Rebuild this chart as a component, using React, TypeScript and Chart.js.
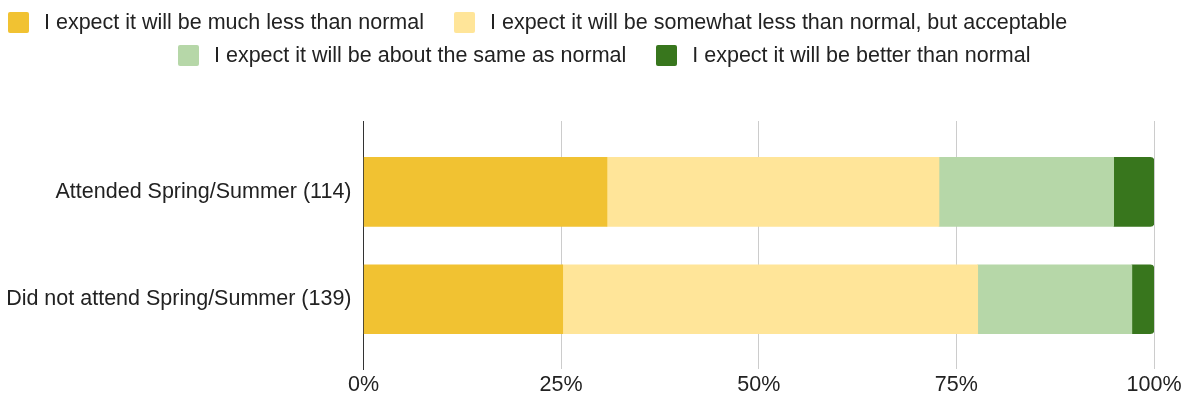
import React, { useEffect, useRef } from 'react';
import { Chart, registerables } from 'chart.js';

Chart.register(...registerables);

const categories = ['Attended Spring/Summer (114)', 'Did not attend Spring/Summer (139)'];
const seriesLabels = [
  'I expect it will be much less than normal',
  'I expect it will be somewhat less than normal, but acceptable',
  'I expect it will be about the same as normal',
  'I expect it will be better than normal',
];
const seriesColors = ['#f1c232', '#ffe599', '#b6d7a8', '#38761d'];
const muchLess = [30.8, 25.2];
const somewhatLess = [42.0, 52.5];
const aboutSame = [22.1, 19.5];
const better = [5.1, 2.8];
const xTickValues = [0, 25, 50, 75, 100];

const seriesValues = [muchLess, somewhatLess, aboutSame, better];

const FONT = "Arial, 'Liberation Sans', sans-serif";
const TEXT = '#222222';
const FS = 21.5;

function LegendItem({ idx, first }: { idx: number; first: boolean }) {
  return (
    <div style={{ display: 'flex', alignItems: 'center', marginLeft: first ? 0 : 30 }}>
      <div
        style={{
          width: 21,
          height: 21,
          borderRadius: 2,
          background: seriesColors[idx],
          marginRight: 15,
          flex: '0 0 auto',
        }}
      />
      <span style={{ fontFamily: FONT, fontSize: FS, color: TEXT, whiteSpace: 'nowrap', lineHeight: '21px' }}>
        {seriesLabels[idx]}
      </span>
    </div>
  );
}

export default function App() {
  const ref = useRef<HTMLCanvasElement | null>(null);

  useEffect(() => {
    if (!ref.current) return;
    const datasets = seriesValues.map((vals, i) => ({
      label: seriesLabels[i],
      data: vals.map((v, j) => ({ x: v, y: j })),
      backgroundColor: seriesColors[i],
      borderWidth: 0,
      borderRadius: i === seriesValues.length - 1 ? 4 : 0,
      borderSkipped: 'start' as const,
      barThickness: 69,
    }));
    const chart = new Chart(ref.current, {
      type: 'bar',
      data: { datasets },
      options: {
        indexAxis: 'y',
        animation: false,
        responsive: false,
        maintainAspectRatio: false,
        layout: { padding: { top: 121, right: 35, left: 0, bottom: 0 } },
        plugins: {
          legend: { display: false },
          tooltip: { enabled: false },
        },
        scales: {
          x: {
            type: 'linear',
            stacked: true,
            min: 0,
            max: 100,
            afterBuildTicks: (scale: any) => {
              scale.ticks = xTickValues.map((v) => ({ value: v }));
            },
            ticks: {
              callback: (v: any) => `${v}%`,
              color: TEXT,
              font: { family: FONT, size: FS },
              padding: 3,
              maxRotation: 0,
            },
            grid: {
              color: (ctx: any) => (ctx.tick && ctx.tick.value === 0 ? '#333333' : '#cccccc'),
              drawTicks: false,
              lineWidth: 1,
            },
            border: { display: false },
            afterFit: (scale: any) => {
              scale.height = 36;
            },
          },
          y: {
            type: 'linear',
            stacked: true,
            reverse: true,
            offset: false,
            min: -0.66,
            max: 1.65,
            afterBuildTicks: (scale: any) => {
              scale.ticks = categories.map((_, i) => ({ value: i }));
            },
            ticks: {
              callback: (v: any) => categories[v as number] ?? '',
              color: TEXT,
              font: { family: FONT, size: FS },
              padding: 4,
            },
            grid: { display: false, offset: false },
            border: { display: true, color: '#333333', width: 1 },
            afterFit: (scale: any) => {
              scale.width = 363.5;
            },
          },
        },
      },
    });
    return () => chart.destroy();
  }, []);

  return (
    <div style={{ position: 'absolute', left: 0, top: 0, width: 1189, height: 405, background: '#ffffff' }}>
      <canvas ref={ref} width={1189} height={405} style={{ position: 'absolute', left: 0, top: 0 }} />
      <div style={{ position: 'absolute', left: 8, top: 12, display: 'flex' }}>
        <LegendItem idx={0} first={true} />
        <LegendItem idx={1} first={false} />
      </div>
      <div style={{ position: 'absolute', left: 178, top: 45, display: 'flex' }}>
        <LegendItem idx={2} first={true} />
        <LegendItem idx={3} first={false} />
      </div>
    </div>
  );
}
